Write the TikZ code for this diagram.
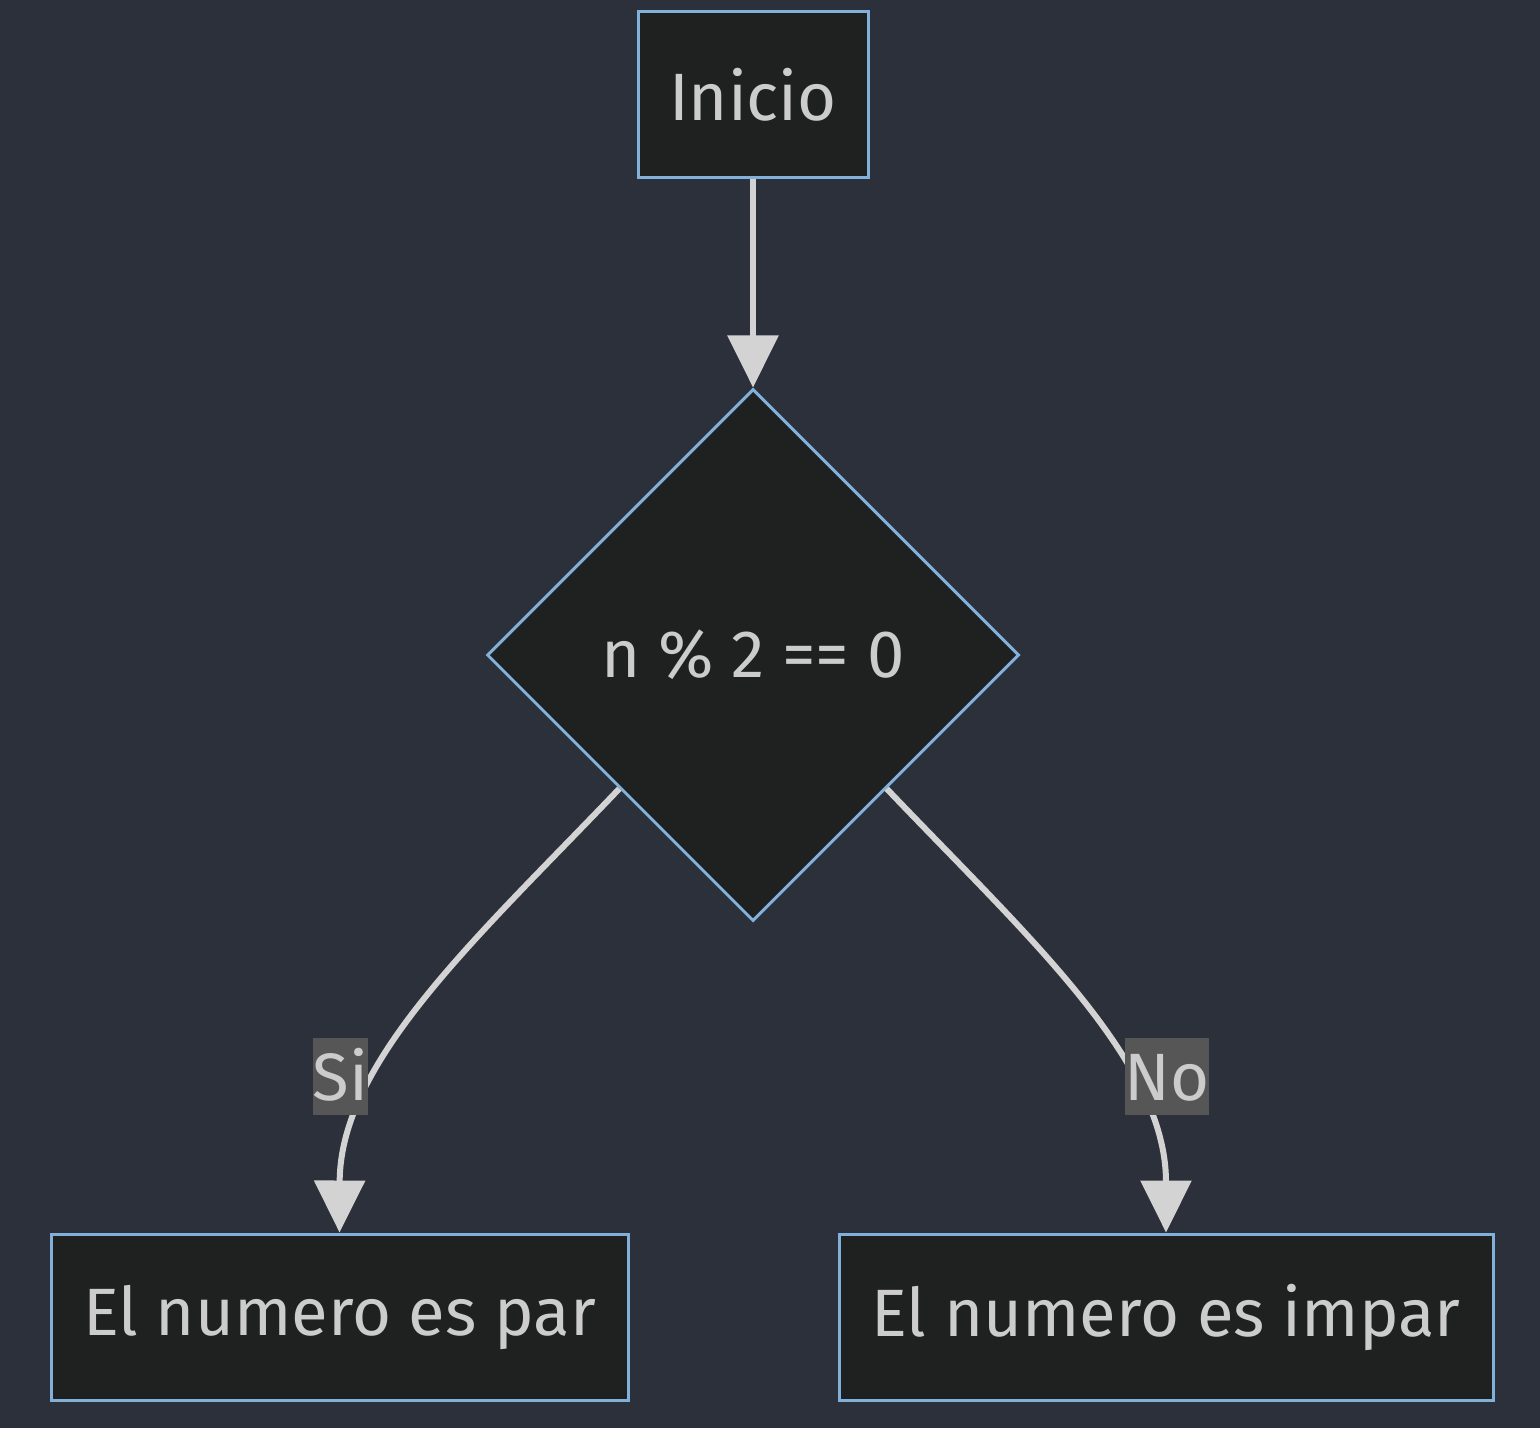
\documentclass[tikz,border=0pt]{standalone}
\usepackage{fontspec}
\setmainfont{Fira Sans}
\usetikzlibrary{shapes.geometric,arrows.meta}
\definecolor{bgc}{HTML}{2C303B}
\definecolor{nodefill}{HTML}{1F2020}
\definecolor{nodeline}{HTML}{81B1DB}
\definecolor{txt}{HTML}{CCCCCC}
\definecolor{edgec}{HTML}{D3D3D3}
\definecolor{lblbg}{HTML}{565656}
\tikzset{
  box/.style={rectangle, draw=nodeline, fill=nodefill, line width=1.5pt, text=txt,
    font=\fontsize{33.5}{40}\selectfont, inner sep=0pt, minimum height=83pt},
  decbox/.style={diamond, aspect=1, draw=nodeline, fill=nodefill, line width=1.5pt, text=txt,
    font=\fontsize{33.5}{40}\selectfont, inner sep=0pt, minimum size=266pt},
  edge/.style={draw=edgec, line width=3pt, -{Triangle[length=26pt,width=25pt]}},
  lbl/.style={fill=lblbg, text=txt, font=\fontsize{33.5}{40}\selectfont, inner sep=0pt,
    minimum height=38.5pt, text height=24pt, text depth=0pt}
}
\begin{document}
\begin{tikzpicture}[x=0.5pt,y=-0.5pt]
\fill[bgc] (0,0) rectangle (1540,1428);
\useasboundingbox (0,0) rectangle (1540,1428);
\node[box, minimum width=115pt] (ini) at (753,94.5) {Inicio};
\node[decbox] (dec) at (753,655) {n \% 2 == 0};
\node[box, minimum width=288.5pt] (par) at (339.5,1317) {El numero es par};
\node[box, minimum width=327pt] (impar) at (1166,1317) {El numero es impar};
\draw[edge] (ini.south) -- (dec.north);
\draw[edge] (dec.south west) .. controls (480,935) and (340,1060) .. (par.north);
\draw[edge] (dec.south east) .. controls (1026,935) and (1166,1060) .. (impar.north);
\node[lbl, minimum width=26.5pt] (si) at (340.5,1076.5) {Si};
\node[lbl, minimum width=40pt] (no) at (1167,1076.5) {No};
\end{tikzpicture}
\end{document}
